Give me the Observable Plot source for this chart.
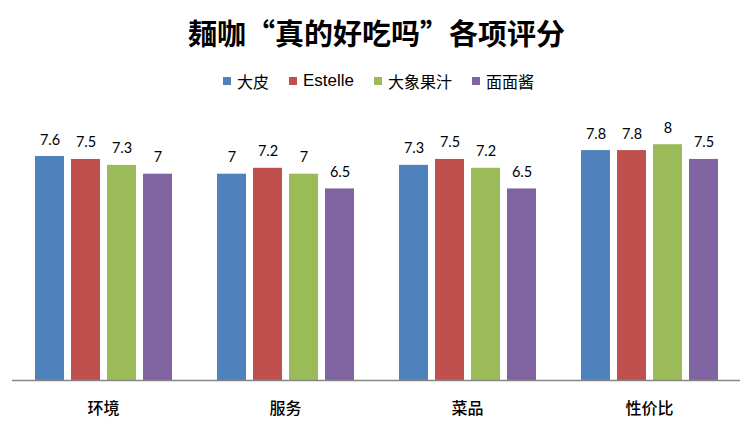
<!DOCTYPE html>
<html>
<head>
<meta charset="utf-8">
<script src="https://cdn.jsdelivr.net/npm/d3@7"></script>
<script src="https://cdn.jsdelivr.net/npm/@observablehq/plot@0.6"></script>
<style>
  html, body { margin: 0; padding: 0; background: #fff; }
  #wrap { width: 753px; height: 435px; position: relative; font-family: "Noto Sans CJK SC", sans-serif; }
  #title { height: 62px; display: flex; align-items: center; justify-content: center; font-size: 29px; font-weight: bold; color: #000; padding-top: 2px; box-sizing: border-box; }
  #legend { height: 38px; display: flex; align-items: center; justify-content: center; font-size: 16px; color: #000; padding-left: 4px; box-sizing: border-box; font-family: "Noto Sans CJK SC", sans-serif; font-weight: normal; }
  .item { display: flex; align-items: center; margin: 0 10px; }
  .sw { width: 8px; height: 8px; margin-right: 6px; }
  .lat { font-family: "Liberation Sans", sans-serif; font-size: 17px; }
</style>
</head>
<body>
<div id="wrap">
  <div id="title">麺咖“真的好吃吗”各项评分</div>
  <div id="legend"></div>
  <div id="chart"></div>
</div>
<script>
const categories = ["环境", "服务", "菜品", "性价比"];
const series = ["大皮", "Estelle", "大象果汁", "面面酱"];
const colors = ["#4F81BD", "#C0504D", "#9BBB59", "#8064A2"];
const values = {
  "大皮":     [7.6, 7.0, 7.3, 7.8],
  "Estelle":  [7.5, 7.2, 7.5, 7.8],
  "大象果汁": [7.3, 7.0, 7.2, 8.0],
  "面面酱":   [7.0, 6.5, 6.5, 7.5]
};

const data = [];
categories.forEach((c, i) => {
  series.forEach(s => data.push({category: c, series: s, value: values[s][i]}));
});

const legend = document.getElementById("legend");
series.forEach((s, i) => {
  const it = document.createElement("div");
  it.className = "item";
  const cls = /^[A-Za-z]+$/.test(s) ? "lat" : "";
  it.innerHTML = `<span class="sw" style="background:${colors[i]}"></span><span class="${cls}">${s}</span>`;
  legend.appendChild(it);
});

const chart = Plot.plot({
  width: 753,
  height: 335,
  marginTop: 0,
  marginBottom: 55,
  marginLeft: 12,
  marginRight: 13,
  style: {fontFamily: "Noto Sans CJK SC, sans-serif", background: "#fff"},
  fx: {domain: categories, padding: 0, label: null},
  x: {domain: series, paddingInner: 0.2, paddingOuter: 0.6, axis: null},
  y: {domain: [0, 9.5], axis: null},
  color: {domain: series, range: colors},
  marks: [
    Plot.barY(data, {fx: "category", x: "series", y: "value", fill: "series"}),
    Plot.ruleY([0], {stroke: "#868686", strokeWidth: 1.5}),
    Plot.text(data, {fx: "category", x: "series", y: "value", text: d => String(d.value), dy: -12, lineAnchor: "bottom", fontSize: 14.5, fontFamily: "Lato, sans-serif", fill: "#000"}),
    Plot.axisFx({anchor: "bottom", tickSize: 0, tickPadding: 22, fontSize: 16, fontWeight: 500, label: null, fill: "#000"})
  ]
});
document.getElementById("chart").appendChild(chart);
</script>
</body>
</html>
